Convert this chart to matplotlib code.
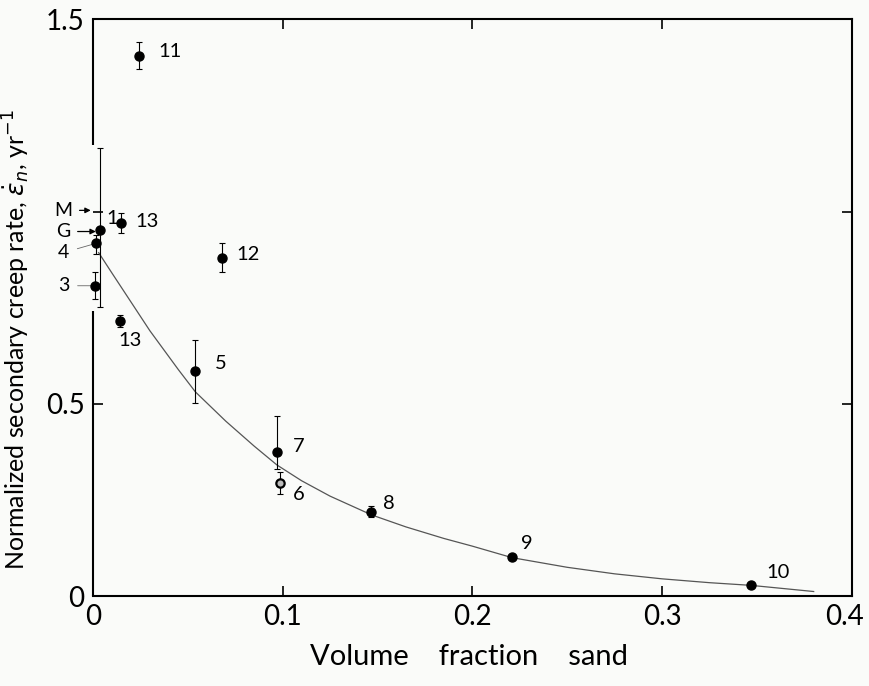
import matplotlib
matplotlib.use("Agg")
from matplotlib import pyplot as plt
from matplotlib.transforms import ScaledTranslation
import numpy as np

labels = ['11', '1', '13', '4', '3', '13', '12', '5', '7', '6', '8', '9', '10']
x_pts = [0.024, 0.0035, 0.015, 0.0015, 0.001, 0.014, 0.068, 0.054, 0.097, 0.0985, 0.1465, 0.221, 0.347]
y_pts = [1.404, 0.953, 0.971, 0.919, 0.807, 0.716, 0.880, 0.586, 0.375, 0.294, 0.219, 0.102, 0.029]
y_hi = [1.44, 1.164, 0.997, 0.94, 0.844, 0.732, 0.919, 0.667, 0.469, 0.323, 0.234, 0.102, 0.029]
y_lo = [1.37, 0.753, 0.945, 0.89, 0.773, 0.70, 0.844, 0.503, 0.33, 0.266, 0.206, 0.102, 0.029]

# fitted curve
curve_x = [0.003, 0.01, 0.02, 0.03, 0.045, 0.054, 0.07, 0.085, 0.097, 0.11,
           0.125, 0.147, 0.165, 0.185, 0.20, 0.221, 0.25, 0.275, 0.30,
           0.325, 0.347, 0.38]
curve_y = [0.893, 0.84, 0.765, 0.69, 0.589, 0.531, 0.455, 0.39, 0.341, 0.30,
           0.26, 0.211, 0.18, 0.15, 0.13, 0.10, 0.075, 0.058, 0.045,
           0.035, 0.028, 0.012]

x_ticks = [0, 0.1, 0.2, 0.3, 0.4]
x_ticklabels = ['0', '0.1', '0.2', '0.3', '0.4']
y_ticks = [0, 0.5, 1.0, 1.5]
y_ticklabels = ['0', '0.5', '', '1.5']

# label positions for the numbers next to points
label_x = [0.0343, 0.0068, 0.0225, None, None, 0.0135, 0.0755, 0.0645, 0.1055, 0.1055, 0.153, 0.2255, 0.355]
label_y = [1.417, 0.982, 0.974, None, None, 0.664, 0.888, 0.604, 0.388, 0.263, 0.240, 0.138, 0.0625]

plt.rcParams['font.family'] = ['Lato', 'DejaVu Sans']
plt.rcParams['mathtext.fontset'] = 'dejavusans'

fig = plt.figure(figsize=(8.69, 6.86), dpi=100)
fig.patch.set_facecolor('#fafbf9')
ax = fig.add_axes([0.107, 0.131, 0.873, 0.841])
ax.set_facecolor('#fafbf9')

ax.set_xlim(0, 0.4)
ax.set_ylim(0, 1.5)

ax.plot(curve_x, curve_y, color='#555555', lw=0.9)

x_arr = np.array(x_pts)
y_arr = np.array(y_pts)
yerr = [y_arr - np.array(y_lo), np.array(y_hi) - y_arr]
ax.errorbar(x_pts, y_pts, yerr=yerr, fmt='none', ecolor='black',
            elinewidth=0.8, capsize=2.5, capthick=0.8, clip_on=False, zorder=3)

filled = [i for i, l in enumerate(labels) if l != '6']
ax.plot([x_pts[i] for i in filled], [y_pts[i] for i in filled], 'o',
        color='black', ms=6.5, zorder=4, clip_on=False)
i6 = labels.index('6')
ax.plot(x_pts[i6], y_pts[i6], 'o', mfc='#bbbbbb', mec='black', mew=1.6,
        ms=6, zorder=4)

for i, l in enumerate(labels):
    if label_x[i] is None:
        continue
    ax.text(label_x[i], label_y[i], l, fontsize=14.5, va='center', ha='left')

# side labels with leader lines / arrows
arrow = dict(arrowstyle='-|>', lw=0.9, mutation_scale=8, color='black',
             shrinkA=3, shrinkB=0)
leader = dict(arrowstyle='-', lw=0.6, color='#666666', shrinkA=4, shrinkB=0)
ax.annotate('M', xy=(-0.0012, 1.003), xytext=(-0.0155, 1.003),
            ha='center', va='center', fontsize=14, annotation_clip=False,
            arrowprops=arrow)
ax.annotate('G', xy=(0.0015, 0.948), xytext=(-0.0155, 0.948),
            ha='center', va='center', fontsize=14, annotation_clip=False,
            arrowprops=arrow)
ax.annotate('4', xy=(0.0, 0.915), xytext=(-0.0155, 0.893),
            ha='center', va='center', fontsize=14, annotation_clip=False,
            arrowprops=leader)
ax.annotate('3', xy=(-0.0005, 0.807), xytext=(-0.0155, 0.807),
            ha='center', va='center', fontsize=14, annotation_clip=False,
            arrowprops=leader)

# frame: left axis line is broken where error bar of point 1 runs
ax.spines['left'].set_visible(False)
for side in ['top', 'right', 'bottom']:
    ax.spines[side].set_linewidth(1.5)
ax.plot([0, 0], [0, 0.742], color='black', lw=1.5, clip_on=False,
        solid_capstyle='butt', zorder=5)
ax.plot([0, 0], [1.174, 1.5], color='black', lw=1.5, clip_on=False,
        solid_capstyle='butt', zorder=5)

ax.set_xticks(x_ticks)
ax.set_xticklabels(x_ticklabels, fontsize=20)
ax.set_yticks(y_ticks)
ax.set_yticklabels(y_ticklabels, fontsize=20)
ax.tick_params(direction='in', top=True, right=True, length=7, width=1.2)
ax.tick_params(axis='x', pad=6)
ax.tick_params(axis='y', pad=6)
# keep the last x label inside the image
last = ax.get_xticklabels()[-1]
last.set_transform(last.get_transform() +
                   ScaledTranslation(-5 / 72, 0, fig.dpi_scale_trans))

ax.set_xlabel('Volume    fraction    sand', fontsize=21)
ax.xaxis.set_label_coords(0.495, -0.083)
ax.set_ylabel(r'Normalized secondary creep rate, $\dot{\varepsilon}_n$, yr$^{-1}$',
              fontsize=18)
ax.yaxis.set_label_coords(-0.08, 0.445)

fig.savefig('out.png', dpi=100, facecolor=fig.get_facecolor())
